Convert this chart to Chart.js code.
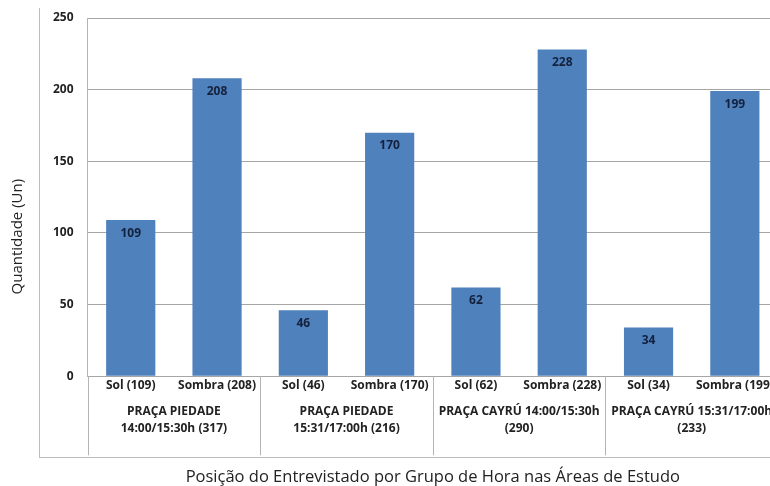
<!DOCTYPE html>
<html>
<head>
<meta charset="utf-8">
<script src="https://cdn.jsdelivr.net/npm/chart.js@4/dist/chart.umd.min.js"></script>
<style>
  html, body { margin: 0; padding: 0; background: #fff; overflow: hidden; }
  #wrap { position: relative; width: 770px; height: 486px; overflow: hidden; }
  #frame { position: absolute; left: 39px; top: 8px; width: 800px; height: 449px;
           border-left: 1px solid #bcbcbc; border-bottom: 1px solid #bcbcbc; }
  canvas { position: absolute; left: 0; top: 0; }
</style>
</head>
<body>
<div id="wrap">
  <div id="frame"></div>
  <canvas id="c" width="790" height="486"></canvas>
</div>
<script>
// Respondent position (sun / shade) per time group in each study area
const categories = ['Sol (109)', 'Sombra (208)', 'Sol (46)', 'Sombra (170)',
                    'Sol (62)', 'Sombra (228)', 'Sol (34)', 'Sombra (199)'];
const values = [109, 208, 46, 170, 62, 228, 34, 199];
const groups = [
  ['PRAÇA PIEDADE', '14:00/15:30h (317)'],
  ['PRAÇA PIEDADE', '15:31/17:00h (216)'],
  ['PRAÇA CAYRÚ 14:00/15:30h', '(290)'],
  ['PRAÇA CAYRÚ 15:31/17:00h', '(233)']
];
const yMin = 0, yMax = 250, yStep = 50;
const yTitle = 'Quantidade (Un)';
const xTitle = 'Posição do Entrevistado por Grupo de Hora nas Áreas de Estudo';

const FONT = "'Open Sans', sans-serif";
const LINE = '#a6a6a6';
const SEP = '#b4b4b4';
const TEXT = '#222';

// Vertical separators between the area/time groups, running through both label rows
const groupSeparators = {
  id: 'groupSeparators',
  afterDraw(chart) {
    const x = chart.scales.x;
    const n = x.ticks.length;
    const w = x.width / n;
    const top = chart.chartArea.bottom;
    const bottom = top + 79;
    const ctx = chart.ctx;
    ctx.save();
    ctx.strokeStyle = SEP;
    ctx.lineWidth = 1;
    for (let g = 0; g <= n; g += 2) {
      const px = Math.round(x.left + g * w) + 0.5;
      ctx.beginPath();
      ctx.moveTo(px, top);
      ctx.lineTo(px, bottom);
      ctx.stroke();
    }
    ctx.restore();
  }
};

// Value printed inside the top of each bar
const valueLabels = {
  id: 'valueLabels',
  afterDatasetsDraw(chart) {
    const ctx = chart.ctx;
    const meta = chart.getDatasetMeta(0);
    ctx.save();
    ctx.font = 'bold 12px ' + FONT;
    ctx.fillStyle = '#14213d';
    ctx.textAlign = 'center';
    ctx.textBaseline = 'middle';
    meta.data.forEach((bar, i) => {
      ctx.fillText(String(values[i]), bar.x, bar.y + 13);
    });
    ctx.restore();
  }
};

// Rotated y-axis title, centred on the axis including the label rows
const yAxisTitle = {
  id: 'yAxisTitle',
  afterDraw(chart) {
    const ctx = chart.ctx;
    const a = chart.chartArea;
    const cy = (a.top + a.bottom + 79) / 2;
    ctx.save();
    ctx.translate(18, cy);
    ctx.rotate(-Math.PI / 2);
    ctx.font = '15px ' + FONT;
    ctx.fillStyle = TEXT;
    ctx.textAlign = 'center';
    ctx.textBaseline = 'middle';
    ctx.fillText(yTitle, 0, 0);
    ctx.restore();
  }
};

new Chart(document.getElementById('c'), {
  type: 'bar',
  data: {
    labels: categories,
    datasets: [{
      data: values,
      backgroundColor: '#4f81bd',
      borderWidth: 0,
      categoryPercentage: 1,
      barPercentage: 0.57
    }]
  },
  options: {
    responsive: false,
    animation: false,
    layout: { padding: { left: 39, right: 12, top: 18, bottom: 0 } },
    plugins: { legend: { display: false }, tooltip: { enabled: false } },
    scales: {
      y: {
        min: yMin, max: yMax,
        ticks: { stepSize: yStep, padding: 14, color: TEXT,
                 font: { family: FONT, size: 12, weight: 'bold', lineHeight: 0.5 } },
        grid: { color: LINE, drawTicks: false },
        border: { display: true, color: SEP }
      },
      x: {
        offset: true,
        grid: { display: false, drawTicks: false },
        border: { display: false },
        ticks: { autoSkip: false, maxRotation: 0, padding: 2, color: TEXT,
                 font: { family: FONT, size: 12, weight: 'bold' } }
      },
      x2: {
        type: 'category',
        position: 'bottom',
        labels: groups,
        offset: true,
        grid: { display: false, drawTicks: false },
        border: { display: false },
        ticks: { autoSkip: false, maxRotation: 0, padding: 8, color: TEXT,
                 font: { family: FONT, size: 12, weight: 'bold', lineHeight: 1.45 } },
        title: { display: true, text: xTitle, color: TEXT,
                 font: { family: FONT, size: 16.5, lineHeight: 1 }, padding: { top: 24, bottom: 0 } }
      }
    }
  },
  plugins: [groupSeparators, valueLabels, yAxisTitle]
});
</script>
</body>
</html>
